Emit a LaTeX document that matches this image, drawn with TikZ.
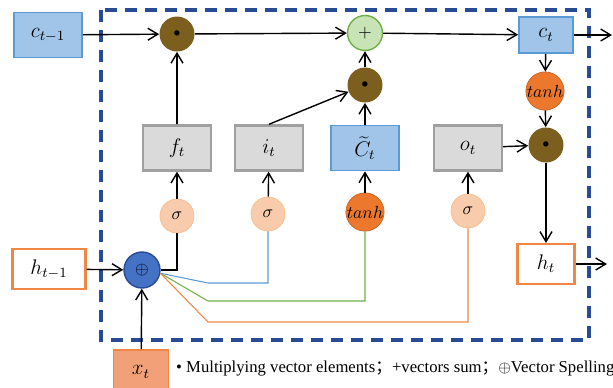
\documentclass[tikz,border=0pt]{standalone}
\usepackage{fontspec}
\setmainfont{Liberation Serif}
\newfontfamily\cjk{Noto Sans CJK SC}
\usetikzlibrary{arrows.meta}

\definecolor{boxblue}{RGB}{160,197,232}
\definecolor{lineblue}{RGB}{91,155,213}
\definecolor{boxgray}{RGB}{218,218,218}
\definecolor{linegray}{RGB}{160,160,160}
\definecolor{multbrown}{RGB}{124,94,30}
\definecolor{addgreen}{RGB}{200,228,182}
\definecolor{linegreen}{RGB}{110,175,70}
\definecolor{tanhorange}{RGB}{236,120,45}
\definecolor{sigpeach}{RGB}{248,203,173}
\definecolor{lineorange}{RGB}{240,135,70}
\definecolor{catblue}{RGB}{68,114,196}
\definecolor{dashblue}{RGB}{40,75,150}
\definecolor{xpeach}{RGB}{242,160,120}

\begin{document}
\begin{tikzpicture}[x=0.02cm,y=-0.02cm,
  arr/.style={line width=0.8pt,-{Straight Barb[length=2mm,width=2.4mm]}},
  bluebox/.style={draw=lineblue,line width=1pt,fill=boxblue,minimum width=1.36cm,minimum height=0.9cm,font=\large},
  graybox/.style={draw=linegray,line width=1.4pt,fill=boxgray,minimum width=1.36cm,minimum height=0.9cm,font=\large},
  hbox/.style={draw=lineorange,line width=1.2pt,fill=white,minimum width=1.46cm,minimum height=0.8cm,font=\large},
  mult/.style={circle,fill=multbrown,minimum size=0.7cm,inner sep=0pt},
  sigc/.style={circle,draw=sigpeach!80!orange,fill=sigpeach,minimum size=0.68cm,inner sep=0pt},
  tanhc/.style={circle,draw=tanhorange!85!black,fill=tanhorange,minimum size=0.68cm,inner sep=0pt}]

\useasboundingbox (0,0) rectangle (613,387);

% cell border
\draw[dashblue,line width=1.8pt,dash pattern=on 0.24cm off 0.16cm] (101,10) rectangle (589,340);

% cell state path
\node[bluebox] (cprev) at (48,35) {$c_{t-1}$};
\node[mult] (m1) at (177,34) {\scriptsize$\bullet$};
\node[circle,draw=linegreen,line width=0.8pt,fill=addgreen,minimum size=0.7cm,inner sep=0pt] (add) at (365,33) {$+$};
\node[bluebox,minimum width=1.08cm,minimum height=0.72cm] (ct) at (546,35) {$c_t$};
\coordinate (cout) at (612,35);

% gates
\node[graybox] (ft) at (177,148) {$f_t$};
\node[graybox] (it) at (269,148) {$i_t$};
\node[bluebox] (ctil) at (365,148) {$\widetilde{C}_t$};
\node[graybox] (ot) at (468,148) {$o_t$};
\node[mult] (m2) at (365,85) {\scriptsize$\bullet$};

\node[sigc] (sf) at (177,216) {$\sigma$};
\node[sigc] (si) at (268,214) {$\sigma$};
\node[tanhc] (tc) at (365,212) {$tanh$};
\node[sigc] (so) at (468,211) {$\sigma$};

% output path
\node[tanhc] (th) at (545,91) {$tanh$};
\node[mult] (m3) at (546,145) {\scriptsize$\bullet$};
\node[hbox,minimum width=1.14cm] (ht) at (546,264) {$h_t$};
\coordinate (hout) at (607,264);

% inputs
\node[hbox] (hprev) at (49,269) {$h_{t-1}$};
\node[circle,draw=dashblue,line width=0.8pt,fill=catblue,minimum size=0.72cm,inner sep=0pt] (cat) at (142,270) {$\oplus$};
\node[draw=lineorange,line width=1pt,fill=xpeach,minimum width=1.1cm,minimum height=0.88cm,font=\large] (xt) at (141,372) {$x_t$};

\node[anchor=west,font=\fontsize{9.5}{11}\selectfont] (legend) at (170,369)
  {\textbullet\ Multiplying vector elements{\cjk ；}+vectors sum{\cjk ；}$\oplus$Vector Spelling};

\draw[arr] (cprev) -- (m1);
\draw[arr] (m1) -- (add);
\draw[arr] (add) -- (ct);
\draw[arr] (ct) -- (cout);

\draw[arr] (hprev) -- (cat);
\draw[arr] (xt) -- (cat);
\draw[line width=0.8pt] (cat) -| (sf);
\draw[lineblue,line width=0.6pt] (cat.-10) -- (208,283) -| (si);
\draw[linegreen,line width=0.6pt] (cat.-10) -- (208,301) -| (tc);
\draw[lineorange,line width=0.6pt] (cat.-10) -- (208,322) -| (so);

\draw[arr] (sf) -- (ft);
\draw[arr] (si) -- (it);
\draw[arr] (tc) -- (ctil);
\draw[arr] (so) -- (ot);

\draw[arr] (ft) -- (m1);
\draw[arr] (it.north) -- (m2);
\draw[arr] (ctil) -- (m2);
\draw[arr] (m2) -- (add);

\draw[arr] (ct) -- (th);
\draw[arr] (th) -- (m3);
\draw[arr] (ot) -- (m3);
\draw[arr] (m3) -- (ht);
\draw[arr] (ht) -- (hout);

\end{tikzpicture}
\end{document}
